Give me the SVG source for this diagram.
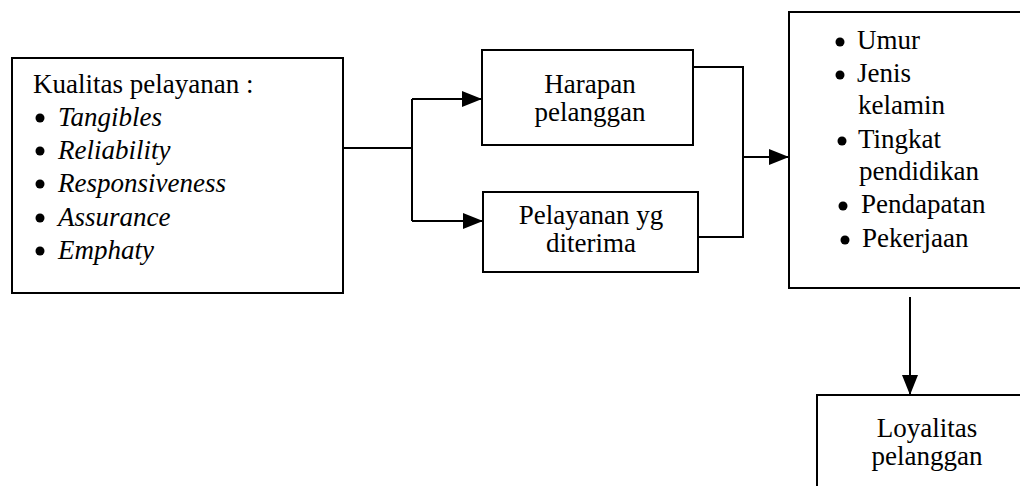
<svg xmlns="http://www.w3.org/2000/svg" width="1020" height="486" viewBox="0 0 1020 486">
  <style>
    .box { fill: #fff; stroke: #000; stroke-width: 2; }
    .wire { fill: none; stroke: #000; stroke-width: 2; }
    .t { font-family: "Liberation Serif", "Times New Roman", serif; font-size: 27px; fill: #000; }
    .it { font-style: italic; }
    .c { text-anchor: middle; }
    .dot { fill: #000; }
  </style>
  <defs>
    <marker id="arrow" markerUnits="userSpaceOnUse" markerWidth="21" markerHeight="18" refX="20" refY="8" orient="auto">
      <path d="M0,0 L20,8 L0,16 z" fill="#000"/>
    </marker>
  </defs>
  <rect width="1020" height="486" fill="#fff"/>

  <!-- service quality dimensions -->
  <g id="kualitas">
    <rect class="box" x="12" y="58" width="331" height="235"/>
    <text class="t" x="33" y="93">Kualitas pelayanan :</text>
    <circle class="dot" cx="40" cy="118" r="4.5"/>
    <text class="t it" x="58" y="126">Tangibles</text>
    <circle class="dot" cx="40" cy="151" r="4.5"/>
    <text class="t it" x="58" y="159">Reliability</text>
    <circle class="dot" cx="40" cy="184" r="4.5"/>
    <text class="t it" x="58" y="192">Responsiveness</text>
    <circle class="dot" cx="40" cy="218" r="4.5"/>
    <text class="t it" x="58" y="226">Assurance</text>
    <circle class="dot" cx="40" cy="251" r="4.5"/>
    <text class="t it" x="58" y="259">Emphaty</text>
  </g>

  <g id="harapan">
    <rect class="box" x="482" y="50" width="211" height="95"/>
    <text class="t c" x="590" y="93">Harapan</text>
    <text class="t c" x="590" y="121">pelanggan</text>
  </g>

  <g id="pelayanan">
    <rect class="box" x="483" y="192" width="215" height="80"/>
    <text class="t c" x="591" y="224">Pelayanan yg</text>
    <text class="t c" x="591" y="252">diterima</text>
  </g>

  <!-- respondent characteristics -->
  <g id="karakteristik">
    <rect class="box" x="789" y="12" width="260" height="276"/>
    <circle class="dot" cx="840" cy="42" r="4.5"/>
    <text class="t" x="857" y="49">Umur</text>
    <circle class="dot" cx="840" cy="75" r="4.5"/>
    <text class="t" x="857" y="82">Jenis</text>
    <text class="t" x="858" y="114">kelamin</text>
    <circle class="dot" cx="842" cy="141" r="4.5"/>
    <text class="t" x="858" y="148">Tingkat</text>
    <text class="t" x="859" y="180">pendidikan</text>
    <circle class="dot" cx="843" cy="206" r="4.5"/>
    <text class="t" x="861" y="213">Pendapatan</text>
    <circle class="dot" cx="845" cy="240" r="4.5"/>
    <text class="t" x="862" y="247">Pekerjaan</text>
  </g>

  <g id="loyalitas">
    <rect class="box" x="817" y="395" width="240" height="120"/>
    <text class="t c" x="927" y="437">Loyalitas</text>
    <text class="t c" x="927" y="465">pelanggan</text>
  </g>

  <g id="connectors">
    <polyline class="wire" points="343,148 412,148"/>
    <polyline class="wire" points="412,99 412,221"/>
    <line class="wire" x1="412" y1="99" x2="482" y2="99" marker-end="url(#arrow)"/>
    <line class="wire" x1="412" y1="221" x2="483" y2="221" marker-end="url(#arrow)"/>
    <polyline class="wire" points="693,67 743,67 743,237 698,237"/>
    <line class="wire" x1="743" y1="157" x2="789" y2="157" marker-end="url(#arrow)"/>
    <line class="wire" x1="910" y1="297" x2="910" y2="395" marker-end="url(#arrow)"/>
  </g>
</svg>
